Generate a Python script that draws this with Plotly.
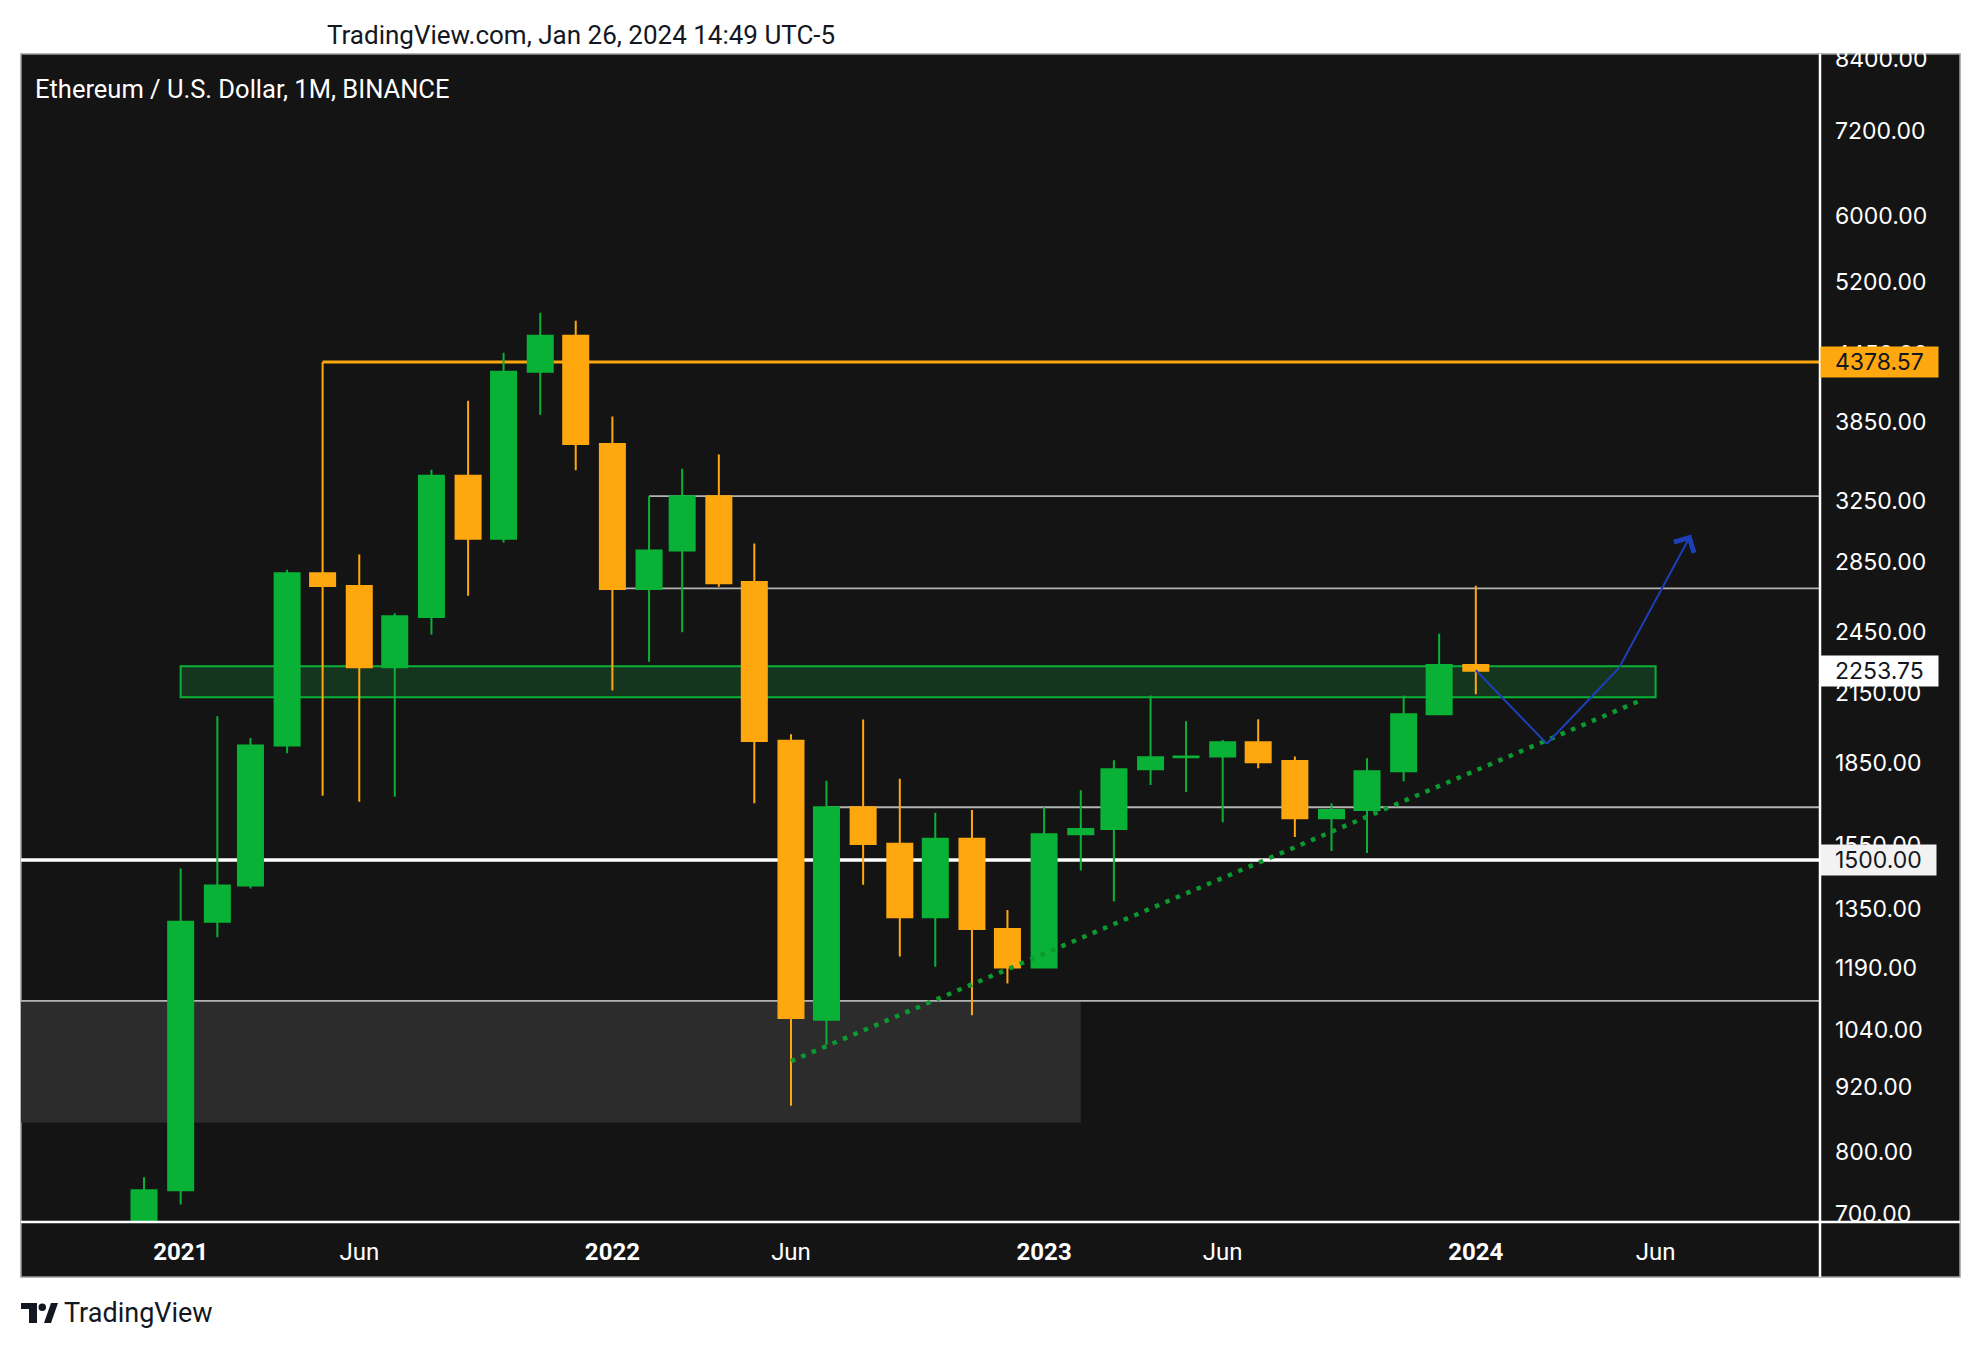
import math
import plotly.graph_objects as go

# monthly ETHUSDT candles
months = ["2020-12-01", "2021-01-01", "2021-02-01", "2021-03-01", "2021-04-01", "2021-05-01",
          "2021-06-01", "2021-07-01", "2021-08-01", "2021-09-01", "2021-10-01", "2021-11-01",
          "2021-12-01", "2022-01-01", "2022-02-01", "2022-03-01", "2022-04-01", "2022-05-01",
          "2022-06-01", "2022-07-01", "2022-08-01", "2022-09-01", "2022-10-01", "2022-11-01",
          "2022-12-01", "2023-01-01", "2023-02-01", "2023-03-01", "2023-04-01", "2023-05-01",
          "2023-06-01", "2023-07-01", "2023-08-01", "2023-09-01", "2023-10-01", "2023-11-01",
          "2023-12-01", "2024-01-01"]
opens = [616, 737, 1313, 1420, 1919, 2779, 2704, 2270, 2530, 3427, 2993, 4288,
         4631, 3670, 2687, 2919, 3280, 2728, 1938, 1064, 1680, 1553, 1326, 1570,
         1293, 1190, 1585, 1603, 1823, 1871, 1874, 1932, 1856, 1641, 1670, 1815,
         2052, 2281]
highs = [758, 1473, 2043, 1950, 2800, 4378, 2893, 2550, 3472, 4028, 4465, 4866,
         4784, 3893, 3279, 3480, 3587, 2963, 1966, 1779, 2029, 1786, 1660, 1670,
         1347, 1680, 1743, 1859, 2137, 2021, 1942, 2030, 1874, 1695, 1867, 2137,
         2440, 2705]
lows = [533, 715, 1270, 1411, 1887, 1722, 1700, 1718, 2436, 2648, 2970, 3909,
        3468, 2160, 2298, 2448, 2700, 1695, 884, 1008, 1422, 1219, 1192, 1074,
        1150, 1190, 1466, 1372, 1762, 1736, 1627, 1827, 1576, 1529, 1523, 1777,
        2050, 2142]
closes = [737, 1313, 1420, 1919, 2779, 2704, 2270, 2533, 3427, 2993, 4288, 4631,
          3670, 2687, 2919, 3280, 2720, 1937, 1068, 1680, 1552, 1326, 1570, 1293,
          1190, 1585, 1603, 1823, 1871, 1874, 1932, 1851, 1641, 1670, 1815, 2052,
          2281, 2253.75]

# drawings
orange_level = 4378.57
orange_start = "2021-05-01"
grey_levels = [3280, 2690, 1680]
grey_starts = ["2022-02-01", "2022-01-01", "2022-07-01"]
white_level = 1500
low_level = 1108
box_low, box_high, box_end = 852.6, 1108, "2023-02-01"
zone_low, zone_high = 2128, 2275
zone_start, zone_end = "2021-01-01", "2024-06-01"
trend_x = ["2022-06-01", "2024-05-22"]
trend_y = [973, 2120]
path_x = ["2024-01-01", "2024-03-01", "2024-05-01", "2024-07-01"]
path_y = [2256, 1926, 2267, 3021]
last_price = 2253.75

y_ticks = [8400, 7200, 6000, 5200, 4450, 3850, 3250, 2850, 2450, 2150, 1850, 1550,
           1350, 1190, 1040, 920, 800, 700]
x_tick_dates = ["2021-01-01", "2021-06-01", "2022-01-01", "2022-06-01",
                "2023-01-01", "2023-06-01", "2024-01-01", "2024-06-01"]
x_tick_text = ["<b>2021</b>", "Jun", "<b>2022</b>", "Jun", "<b>2023</b>", "Jun",
               "<b>2024</b>", "Jun"]

GREEN = "#09b236"
ORANGE = "#ffa70f"
BG = "#141414"
GREY = "#b4b4b4"
BLUE = "#1c3fb8"
FONT = "Roboto"

# page is offset by the 8px body margin, so work in page pixels and shift
OFF = 8
W, H = 1980 - 2 * OFF, 1348 - 2 * OFF
L, R, T, B = 21 - OFF, 1820 - OFF, 54 - OFF, 1222 - OFF


def fx(p):
    return (p - OFF - L) / (R - L)


def fy(p):
    return (B - (p - OFF)) / (B - T)


LEFT_X = "2020-05-01"
RIGHT_X = "2025-03-01"

fig = go.Figure()
fig.add_trace(go.Candlestick(
    x=months, open=opens, high=highs, low=lows, close=closes,
    increasing=dict(line=dict(color=GREEN, width=2), fillcolor=GREEN),
    decreasing=dict(line=dict(color=ORANGE, width=2), fillcolor=ORANGE),
    whiskerwidth=0, hoverinfo="skip"))

shapes = [
    # chart panel background incl. axes
    dict(type="rect", xref="paper", yref="paper", x0=fx(21), x1=fx(1960), y0=fy(1277), y1=fy(54),
         fillcolor=BG, line=dict(color="#9a9a9a", width=1.5), layer="below"),
    # grey box and green zone
    dict(type="rect", x0=LEFT_X, x1=box_end, y0=box_low, y1=box_high,
         fillcolor="#2c2c2c", line=dict(width=0), layer="below"),
    dict(type="rect", x0=zone_start, x1=zone_end, y0=zone_low, y1=zone_high,
         fillcolor="#15351e", line=dict(color=GREEN, width=2), layer="below"),
    # horizontal levels
    dict(type="line", x0=LEFT_X, x1=RIGHT_X, y0=low_level, y1=low_level,
         line=dict(color=GREY, width=1.8), layer="below"),
    dict(type="line", x0=LEFT_X, x1=RIGHT_X, y0=white_level, y1=white_level,
         line=dict(color="#ffffff", width=3.5), layer="below"),
    dict(type="line", x0=orange_start, x1=RIGHT_X, y0=orange_level, y1=orange_level,
         line=dict(color=ORANGE, width=3), layer="below"),
    # trend line
    dict(type="line", x0=trend_x[0], x1=trend_x[1], y0=trend_y[0], y1=trend_y[1],
         line=dict(color="#0b9a30", width=4.5, dash="4.5px,6.8px")),
    # separators
    dict(type="line", xref="paper", yref="paper", x0=1, x1=1, y0=fy(1277), y1=fy(54),
         line=dict(color="#ffffff", width=2.5), layer="above"),
    dict(type="line", xref="paper", yref="paper", x0=fx(21), x1=fx(1960), y0=0, y1=0,
         line=dict(color="#ffffff", width=2.5), layer="above"),
    # logo mark
    dict(type="rect", xref="paper", yref="paper", x0=fx(21), x1=fx(37), y0=fy(1309), y1=fy(1303),
         fillcolor="#131722", line=dict(width=0)),
    dict(type="rect", xref="paper", yref="paper", x0=fx(29), x1=fx(37), y0=fy(1323), y1=fy(1303),
         fillcolor="#131722", line=dict(width=0)),
    dict(type="circle", xref="paper", yref="paper", x0=fx(38.5), x1=fx(46), y0=fy(1311), y1=fy(1303.5),
         fillcolor="#131722", line=dict(width=0)),
    dict(type="path", xref="paper", yref="paper",
         path="M %f,%f L %f,%f L %f,%f L %f,%f Z" % (fx(44), fy(1323), fx(51), fy(1323),
                                                   fx(58), fy(1303), fx(51), fy(1303)),
         fillcolor="#131722", line=dict(width=0)),
]
for lvl, start in zip(grey_levels, grey_starts):
    shapes.append(dict(type="line", x0=start, x1=RIGHT_X, y0=lvl, y1=lvl,
                       line=dict(color=GREY, width=1.8), layer="below"))
# projected path (last leg drawn as an arrow)
for i in range(len(path_x) - 2):
    shapes.append(dict(type="line", x0=path_x[i], x1=path_x[i + 1], y0=path_y[i], y1=path_y[i + 1],
                       line=dict(color=BLUE, width=2)))

# annotations on a log axis take log10 positions
fig.add_annotation(x=path_x[-1], y=math.log10(path_y[-1]), ax=path_x[-2], ay=math.log10(path_y[-2]),
                   xref="x", yref="y", axref="x", ayref="y", text="", showarrow=True,
                   arrowhead=4, arrowsize=2.2, arrowwidth=2, arrowcolor=BLUE)

# price labels on the axis
for val, bg in [(orange_level, ORANGE), (last_price, "#ffffff"), (white_level, "#f2f2f2")]:
    fig.add_annotation(x=1, xref="paper", xanchor="left", y=math.log10(val), yref="y",
                       text="&nbsp;&nbsp;%.2f&nbsp;&nbsp;" % val, showarrow=False,
                       bgcolor=bg, borderpad=1, font=dict(family="Inter", size=23, color="#131722"))

# header, title and logo text
fig.add_annotation(x=fx(325), y=fy(35), xref="paper", yref="paper", xanchor="left", yanchor="middle",
                   text="TradingView.com, Jan 26, 2024 14:49 UTC-5", showarrow=False,
                   font=dict(family=FONT, size=26, color="#131722"))
fig.add_annotation(x=fx(33), y=fy(89), xref="paper", yref="paper", xanchor="left", yanchor="middle",
                   text="Ethereum / U.S. Dollar, 1M, BINANCE", showarrow=False,
                   font=dict(family=FONT, size=25.5, color="#ffffff"))
fig.add_annotation(x=fx(62), y=fy(1313), xref="paper", yref="paper", xanchor="left", yanchor="middle",
                   text="TradingView", showarrow=False,
                   font=dict(family=FONT, size=27, color="#131722"))

fig.update_layout(
    width=W, height=H,
    margin=dict(l=L, r=W - R, t=T, b=H - B),
    paper_bgcolor="#ffffff", plot_bgcolor=BG,
    showlegend=False, boxgap=0.245, boxgroupgap=0,
    shapes=shapes,
    xaxis=dict(type="date", range=["2020-08-19", "2024-10-18"], rangeslider=dict(visible=False),
               showgrid=False, zeroline=False, showline=False, ticks="",
               tickvals=x_tick_dates, ticktext=x_tick_text, ticklabelstandoff=13,
               tickfont=dict(family=FONT, size=24, color="#ffffff")),
    yaxis=dict(type="log", side="right", range=[math.log10(688.5), math.log10(8491)],
               showgrid=False, zeroline=False, showline=False, ticks="",
               tickvals=y_ticks, ticktext=["%.2f" % v for v in y_ticks], ticklabelstandoff=14,
               tickfont=dict(family="Inter", size=23, color="#ffffff")),
    hovermode=False,
)

fig.write_html("out.html")
